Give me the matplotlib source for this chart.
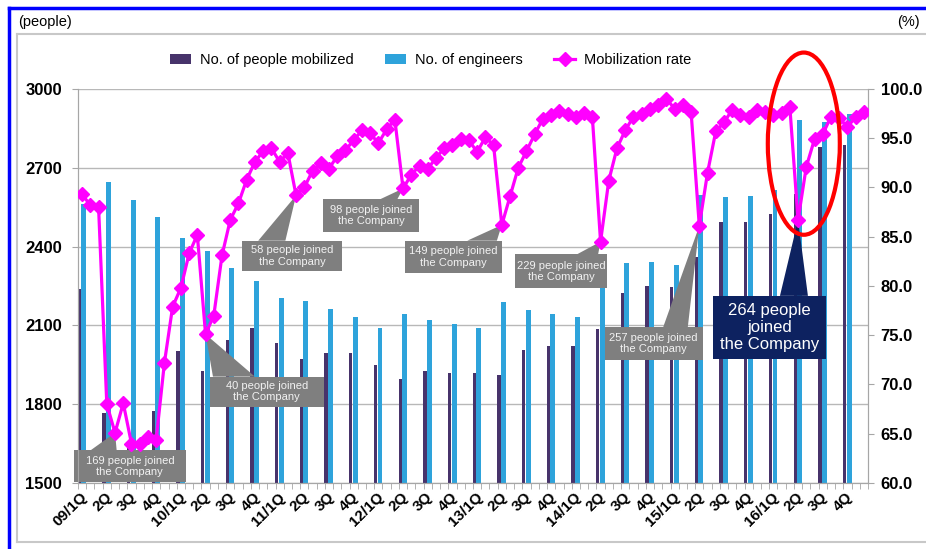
import numpy as np
import matplotlib.pyplot as plt
from matplotlib.patches import Ellipse, Patch, Rectangle, Polygon
from matplotlib.lines import Line2D
from matplotlib.ticker import FormatStrFormatter

plt.rcParams['font.family'] = ['Liberation Sans', 'DejaVu Sans']

# quarterly categories 09/1Q .. 16/4Q
quarters = ['09/1Q', '2Q', '3Q', '4Q', '10/1Q', '2Q', '3Q', '4Q',
            '11/1Q', '2Q', '3Q', '4Q', '12/1Q', '2Q', '3Q', '4Q',
            '13/1Q', '2Q', '3Q', '4Q', '14/1Q', '2Q', '3Q', '4Q',
            '15/1Q', '2Q', '3Q', '4Q', '16/1Q', '2Q', '3Q', '4Q']

mobilized = [2240, 1768, 1660, 1775, 2001, 1927, 2044, 2090,
             2032, 1971, 1994, 1994, 1948, 1897, 1925, 1920,
             1918, 1910, 2006, 2023, 2023, 2085, 2224, 2250,
             2247, 2360, 2493, 2493, 2523, 2600, 2781, 2788]

engineers = [2562, 2647, 2577, 2511, 2433, 2382, 2320, 2269,
             2205, 2192, 2162, 2132, 2089, 2144, 2121, 2106,
             2089, 2188, 2158, 2143, 2132, 2330, 2337, 2342,
             2331, 2597, 2588, 2593, 2614, 2883, 2873, 2905]

# monthly mobilization rate (%)
rate = [89.3, 88.2, 88.0, 68.0, 65.1, 68.1, 64.0, 64.0, 64.7, 64.4, 72.2, 77.9,
        79.8, 83.3, 85.2, 75.1, 77.0, 83.1, 86.7, 88.4, 90.8, 92.6, 93.7, 94.0,
        92.6, 93.5, 89.2, 90.0, 91.7, 92.5, 91.9, 93.2, 93.8, 94.8, 95.8, 95.5,
        94.5, 95.9, 96.9, 89.9, 91.3, 92.2, 91.9, 93.0, 94.0, 94.3, 94.9, 94.8,
        93.6, 95.1, 94.3, 86.2, 89.1, 92.0, 93.7, 95.4, 97.0, 97.4, 97.8, 97.5,
        97.2, 97.6, 97.2, 84.5, 90.7, 94.0, 95.8, 97.2, 97.5, 98.0, 98.4, 99.0,
        98.0, 98.4, 97.7, 86.1, 91.5, 95.7, 96.6, 97.9, 97.4, 97.2, 97.9, 97.7,
        97.4, 97.6, 98.2, 86.7, 92.1, 94.9, 95.4, 97.2, 97.1, 96.1, 97.2, 97.7]

# callouts: month index pointed at, box (x0, x1, y0, y1) and pointer base (b0, b1)
# in month / % units of the rate axis
callouts = [(4, (-0.5, 13.1, 60.1, 63.3), (1.5, 4.7), '169 people joined\nthe Company'),
            (15, (16.0, 29.9, 67.7, 70.8), (16.4, 21.5), '40 people joined\nthe Company'),
            (26, (19.9, 32.1, 81.5, 84.6), (21.9, 25.2), '58 people joined\nthe Company'),
            (39, (29.8, 41.4, 85.5, 88.8), (36.7, 38.8), '98 people joined\nthe Company'),
            (51, (39.7, 51.5, 81.3, 84.6), (47.3, 50.9), '149 people joined\nthe Company'),
            (63, (53.1, 64.3, 79.8, 83.2), (60.6, 63.2), '229 people joined\nthe Company'),
            (75, (64.0, 75.9, 72.5, 75.8), (71.1, 74.1), '257 people joined\nthe Company')]
big_callout = (87, (77.2, 90.9, 72.6, 79.0), (85.3, 88.7), '264 people\njoined\nthe Company')

dark = '#47336b'
blue = '#2ea3db'
mag = '#ff00ff'
grey = '#a6a6a6'

fig = plt.figure(figsize=(9.26, 5.49), dpi=100)
ax = fig.add_axes([78/926, 1-483/549, 790/926, 394/549])

q = np.arange(len(quarters)) * 3
ax.bar(q + 0.15, mobilized, width=0.4, color=dark, zorder=2)
ax.bar(q + 0.7, engineers, width=0.6, color=blue, zorder=2)
ax.set_xlim(0, 96)
ax.set_ylim(1500, 3000)
ax.set_yticks(range(1500, 3001, 300))
ax.grid(axis='y', color='#b8b8b8', lw=1)
ax.set_axisbelow(True)

ax.set_xticks(q + 0.25)
ax.set_xticklabels(quarters, rotation=45, ha='right', rotation_mode='anchor',
                   fontsize=11, fontweight='bold')
ax.set_xticks(np.arange(97), minor=True)
ax.tick_params(axis='x', which='major', length=0, pad=5)
ax.tick_params(axis='x', which='minor', length=4, color=grey)
ax.tick_params(axis='y', length=4, color=grey, labelsize=12, pad=7.5)
for lab in ax.get_yticklabels():
    lab.set_fontweight('bold')
ax.spines['top'].set_visible(False)
for s in ['left', 'right', 'bottom']:
    ax.spines[s].set_color(grey)

ax2 = ax.twinx()
months = np.arange(len(rate)) + 0.5
ax2.plot(months, rate, color=mag, lw=2.3, marker='D', ms=7, zorder=3)
ax2.set_ylim(60, 100)
ax2.set_yticks(np.arange(60, 101, 5))
ax2.yaxis.set_major_formatter(FormatStrFormatter('%.1f'))
ax2.tick_params(axis='y', length=4, color=grey, labelsize=12, pad=5)
for lab in ax2.get_yticklabels():
    lab.set_fontweight('bold')
ax2.spines['top'].set_visible(False)
for s in ['left', 'right', 'bottom']:
    ax2.spines[s].set_color(grey)


def callout(i, box, base, txt, fc, tc, fs):
    x0, x1, y0, y1 = box
    ax2.add_patch(Rectangle((x0, y0), x1 - x0, y1 - y0, fc=fc, ec='none',
                            clip_on=False, zorder=2.5))
    ax2.add_patch(Polygon([(base[0], y1), (base[1], y1), (months[i], rate[i])],
                          closed=True, fc=fc, ec='none', clip_on=False, zorder=2.5))
    ax2.text((x0 + x1) / 2, (y0 + y1) / 2, txt, ha='center', va='center',
             color=tc, fontsize=fs, linespacing=1.15, zorder=2.6)


for i, box, base, txt in callouts:
    callout(i, box, base, txt, '#7f7f7f', '#f2f2f2', 8)
callout(*big_callout, '#0d2260', 'white', 12)

ax2.add_patch(Ellipse((88.2, 94.45), width=8.75, height=18.5, fill=False,
                      ec='red', lw=3, clip_on=False, zorder=6))

handles = [Patch(facecolor=dark), Patch(facecolor=blue),
           Line2D([], [], color=mag, lw=2.3, marker='D', ms=7)]
fig.legend(handles, ['No. of people mobilized', 'No. of engineers', 'Mobilization rate'],
           loc='center', bbox_to_anchor=(0.465, 1-60/549), ncol=3, frameon=False,
           fontsize=10.5, handlelength=1.4, columnspacing=2.2, handletextpad=0.6)

fig.text(18/926, 1-22/549, '(people)', fontsize=10.5, va='center', ha='left')
fig.text(920/926, 1-22/549, '(%)', fontsize=10.5, va='center', ha='right')

# page frames
fig.add_artist(Line2D([9/926, 9/926], [0, 1-8/549], color='#0000ff', lw=2.5))
fig.add_artist(Line2D([9/926, 1], [1-8/549, 1-8/549], color='#0000ff', lw=2.5))
fig.add_artist(Line2D([17/926, 17/926], [1-542/549, 1-34/549], color='#c8c8c8', lw=1.5))
fig.add_artist(Line2D([17/926, 1], [1-34/549, 1-34/549], color='#c8c8c8', lw=1.5))
fig.add_artist(Line2D([17/926, 1], [1-542/549, 1-542/549], color='#c8c8c8', lw=1.5))

plt.savefig('out.png', dpi=100)
